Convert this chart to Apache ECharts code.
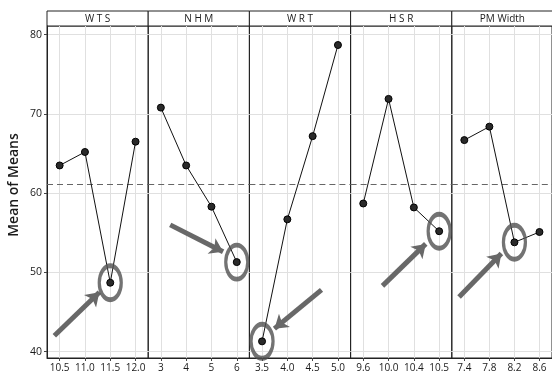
<!DOCTYPE html>
<html>
<head>
<meta charset="utf-8">
<script src="https://cdn.jsdelivr.net/npm/echarts@6/dist/echarts.min.js"></script>
<style>
  html, body { margin: 0; padding: 0; background: #fff; }
  #chart { width: 552px; height: 379px; }
</style>
</head>
<body>
<div id="chart"></div>
<script>
// Main effects of each factor on the mean response
const factorNames = ['W T S', 'N H M', 'W R T', 'H S R', 'PM Width'];

const wtsLevels = ['10.5', '11.0', '11.5', '12.0'];
const wtsMeans  = [63.5, 65.2, 48.7, 66.5];

const nhmLevels = ['3', '4', '5', '6'];
const nhmMeans  = [70.8, 63.5, 58.3, 51.3];

const wrtLevels = ['3.5', '4.0', '4.5', '5.0'];
const wrtMeans  = [41.3, 56.7, 67.2, 78.7];

const hsrLevels = ['9.6', '10.0', '10.4', '10.5'];
const hsrMeans  = [58.7, 71.9, 58.2, 55.2];

const pmLevels  = ['7.4', '7.8', '8.2', '8.6'];
const pmMeans   = [66.7, 68.4, 53.8, 55.1];

const grandMean = 61.1;
const yTicks = [40, 50, 60, 70, 80];

// Optimal level of each factor (index into its levels), ringed on the chart
const optimalLevel = [2, 3, 0, 3, 2];

// Pointer arrows per factor: [fromLevel, fromMean, toLevel, toMean]
const pointerArrows = [
  [-0.21, 42.0, 1.57, 47.5],
  [0.37, 56.0, 2.46, 52.6],
  [2.35, 47.8, 0.49, 42.9],
  [0.76, 48.3, 2.47, 53.6],
  [-0.21, 46.9, 1.48, 52.4]
];

const levels = [wtsLevels, nhmLevels, wrtLevels, hsrLevels, pmLevels];
const means  = [wtsMeans, nhmMeans, wrtMeans, hsrMeans, pmMeans];

// Layout
const W = 552, H = 379;
const plotLeft = 47, panelW = 101.2;
const plotTop = 26, plotBottom = 358, headerTop = 11;
const yMin = 39.2, yMax = 81.1;
const font = '"Open Sans", "Noto Sans", sans-serif';

const grids = [], xAxes = [], yAxes = [], series = [], graphics = [];

levels.forEach((lv, p) => {
  const left = plotLeft + p * panelW;
  grids.push({
    left: left, width: panelW, top: plotTop, bottom: H - plotBottom,
    show: true, borderColor: '#222', borderWidth: 1, backgroundColor: 'transparent'
  });
  const idx = lv.map((_, i) => i);
  xAxes.push({
    type: 'value', gridIndex: p, min: -0.5, max: 3.5,
    axisLine: { show: true, onZero: false, lineStyle: { color: '#222', width: 1 } },
    axisTick: { show: true, customValues: idx, length: 3, lineStyle: { color: '#444' } },
    axisLabel: {
      customValues: idx, formatter: v => lv[Math.round(v)] ?? '',
      color: '#1a1a1a', fontSize: 10, fontFamily: font, margin: 5
    },
    splitLine: { show: true, lineStyle: { color: '#e0e0e0', width: 1 } }
  });
  yAxes.push({
    type: 'value', gridIndex: p, min: yMin, max: yMax,
    axisLine: { show: p === 0, onZero: false, lineStyle: { color: '#222' } },
    axisTick: { show: p === 0, customValues: yTicks, length: 3, lineStyle: { color: '#444' } },
    axisLabel: {
      show: p === 0, customValues: yTicks, color: '#1a1a1a',
      fontSize: 10.5, fontFamily: font, margin: 5
    },
    splitLine: { show: true, lineStyle: { color: '#e0e0e0', width: 1 } }
  });

  // factor means joined by a line
  series.push({
    type: 'line', xAxisIndex: p, yAxisIndex: p,
    data: means[p].map((m, i) => [i, m]),
    symbol: 'circle', symbolSize: 7,
    itemStyle: { color: '#2a2a2a', borderColor: '#000', borderWidth: 1 },
    lineStyle: { color: '#111', width: 1 },
    z: 5,
    markLine: {
      silent: true, symbol: 'none', label: { show: false },
      lineStyle: { color: '#666', type: [6, 4], width: 1 },
      data: [{ yAxis: grandMean }]
    }
  });

  // ring around the optimal level
  const k = optimalLevel[p];
  series.push({
    type: 'scatter', xAxisIndex: p, yAxisIndex: p,
    data: [[k, means[p][k]]],
    symbol: 'circle', symbolSize: [22, 34], clip: false,
    itemStyle: { color: 'rgba(0,0,0,0)', borderColor: '#505050', borderWidth: 4 },
    z: 6, silent: true
  });

  // pointer arrow
  const a = pointerArrows[p];
  series.push({
    type: 'lines', coordinateSystem: 'cartesian2d', xAxisIndex: p, yAxisIndex: p,
    data: [{ coords: [[a[0], a[1]], [a[2], a[3]]] }],
    symbol: ['none', 'arrow'], symbolSize: [0, 13],
    lineStyle: { color: '#686868', width: 5, opacity: 1, curveness: 0 },
    z: 6, silent: true
  });

  // factor header cell
  graphics.push({
    type: 'rect',
    shape: { x: left, y: headerTop, width: panelW, height: plotTop - headerTop },
    style: { fill: '#fff', stroke: '#222', lineWidth: 1 }
  });
  graphics.push({
    type: 'text', x: left + panelW / 2, y: (headerTop + plotTop) / 2 + 1,
    style: {
      text: factorNames[p], fill: '#1a1a1a', font: '10px ' + font,
      textAlign: 'center', textVerticalAlign: 'middle'
    }
  });
});

graphics.push({
  type: 'text', x: 14, y: 185, rotation: Math.PI / 2,
  style: {
    text: 'Mean of Means', fill: '#1a1a1a', font: '600 14px ' + font,
    textAlign: 'center', textVerticalAlign: 'middle'
  }
});

const chart = echarts.init(document.getElementById('chart'), null, { renderer: 'canvas' });
chart.setOption({
  backgroundColor: '#fff',
  animation: false,
  grid: grids,
  xAxis: xAxes,
  yAxis: yAxes,
  series: series,
  graphic: graphics
});
</script>
</body>
</html>
